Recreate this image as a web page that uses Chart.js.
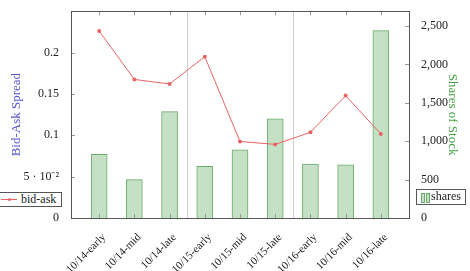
<!DOCTYPE html>
<html>
<head>
<meta charset="utf-8">
<script src="https://cdn.jsdelivr.net/npm/chart.js@4.4.1/dist/chart.umd.min.js"></script>
<style>
    body { margin: 0; background: #fff; font-family: "Liberation Serif", serif; }
    #wrap { position: relative; width: 470px; height: 271px; }
    .legend { position: absolute; border: 1px solid #555; background: #fff; font-size: 12px; line-height: 13px; color: #222; box-sizing: border-box; }
    .legend span { position: absolute; top: 0; }
    #leg-bid { left: -1px; top: 192px; width: 63px; height: 15px; }
    #leg-bid .ln { position: absolute; left: 1px; top: 6px; width: 16px; height: 1px; background: #e86464; }
    #leg-bid .dot { position: absolute; left: 8px; top: 5px; width: 3px; height: 3px; border-radius: 2px; background: #e86464; }
    #leg-shares { left: 416px; top: 189px; width: 50px; height: 16px; }
    #leg-shares .bar { position: absolute; top: 3px; width: 2px; height: 8px; background: #c5e1c5; border: 1px solid #6aaa6a; }
</style>
</head>
<body>
<div id="wrap">
    <canvas id="chart"></canvas>
    <div class="legend" id="leg-bid"><div class="ln"></div><div class="dot"></div><span style="left:21px">bid-ask</span></div>
    <div class="legend" id="leg-shares"><div class="bar" style="left:4px"></div><div class="bar" style="left:9px"></div><span style="left:14px">shares</span></div>
</div>
<script>
const categories = ["10/14-early", "10/14-mid", "10/14-late", "10/15-early", "10/15-mid", "10/15-late", "10/16-early", "10/16-mid", "10/16-late"];
const bidAsk = [0.226, 0.1675, 0.162, 0.195, 0.0925, 0.089, 0.1036, 0.148, 0.1016];
const shares = [830, 500, 1385, 671, 888, 1291, 701, 692, 2440];
const spreadTicks = [0, 0.05, 0.1, 0.15, 0.2];
const shareTicks = [0, 500, 1000, 1500, 2000, 2500];
const dayBreaks = [2.5, 5.5];

const font = {family: "Liberation Serif", size: 12};
const red = "#e86464";

// pgfplots style box, inner ticks and day separators
const framePlugin = {
    id: "frame",
    beforeDatasetsDraw(chart) {
        const {ctx, chartArea: a, scales} = chart;
        ctx.save();
        ctx.strokeStyle = "#cfcfcf";
        ctx.lineWidth = 1;
        dayBreaks.forEach(v => {
            const x = Math.round(scales.x.getPixelForValue(v)) + 0.5;
            ctx.beginPath();
            ctx.moveTo(x, a.top);
            ctx.lineTo(x, a.bottom);
            ctx.stroke();
        });
        ctx.restore();
    },
    afterDatasetsDraw(chart) {
        const {ctx, chartArea: a, scales} = chart;
        ctx.save();
        ctx.strokeStyle = "#999";
        ctx.lineWidth = 1;
        ctx.beginPath();
        categories.forEach((c, i) => {
            const x = Math.round(scales.x.getPixelForValue(i)) + 0.5;
            ctx.moveTo(x, a.bottom); ctx.lineTo(x, a.bottom - 4);
            ctx.moveTo(x, a.top); ctx.lineTo(x, a.top + 4);
        });
        spreadTicks.forEach(v => {
            const y = Math.round(scales.y.getPixelForValue(v)) + 0.5;
            ctx.moveTo(a.left, y); ctx.lineTo(a.left + 4, y);
        });
        shareTicks.forEach(v => {
            const y = Math.round(scales.y1.getPixelForValue(v)) + 0.5;
            ctx.moveTo(a.right, y); ctx.lineTo(a.right - 4, y);
        });
        ctx.stroke();
        ctx.strokeStyle = "#555";
        ctx.strokeRect(Math.round(a.left) + 0.5, Math.round(a.top) + 0.5, Math.round(a.right - a.left), Math.round(a.bottom - a.top));
        ctx.restore();
    }
};

function fmtSpread(v) {
    v = Math.round(v * 100) / 100;
    if (v === 0.05) return "5 · 10⁻²";
    return "" + v;
}

new Chart("chart", {
    type: "bar",
    data: {
        datasets: [{
            type: "line",
            label: "bid-ask",
            data: bidAsk.map((v, i) => ({x: i, y: v})),
            yAxisID: "y",
            borderColor: red,
            backgroundColor: red,
            borderWidth: 1,
            pointRadius: 2,
            pointBorderWidth: 0,
            order: 0
        }, {
            label: "shares",
            data: shares.map((v, i) => ({x: i, y: v})),
            yAxisID: "y1",
            backgroundColor: "#c5e1c5",
            borderColor: "#6aaa6a",
            borderWidth: 1,
            barThickness: 16,
            order: 1
        }]
    },
    options: {
        responsive: true,
        maintainAspectRatio: false,
        animation: false,
        layout: {padding: {top: 8, left: 0, right: 0, bottom: 0}},
        plugins: {legend: {display: false}, tooltip: {enabled: false}},
        scales: {
            x: {
                type: "linear",
                offset: false,
                min: -0.8,
                max: 8.8,
                grid: {display: false},
                border: {display: false},
                afterBuildTicks: s => { s.ticks = categories.map((c, i) => ({value: i})); },
                afterFit: s => { s.height = 53; },
                ticks: {
                    font: {family: "Liberation Serif", size: 11},
                    color: "#222",
                    autoSkip: false,
                    minRotation: 45,
                    maxRotation: 45,
                    padding: 5,
                    labelOffset: 5,
                    callback: v => categories[v]
                }
            },
            y: {
                position: "left",
                min: 0,
                max: 0.25,
                grid: {display: false},
                border: {display: false},
                afterBuildTicks: s => { s.ticks = spreadTicks.map(v => ({value: v})); },
                afterFit: s => { s.width = 71; },
                ticks: {font, color: "#222", padding: 4, callback: fmtSpread},
                title: {display: true, text: "Bid-Ask Spread", color: "#5555d5", font: {family: "Liberation Serif", size: 13}, padding: {top: 9, bottom: 0}}
            },
            y1: {
                position: "right",
                min: 0,
                max: 2692,
                grid: {display: false},
                border: {display: false},
                afterBuildTicks: s => { s.ticks = shareTicks.map(v => ({value: v})); },
                afterFit: s => { s.width = 61; },
                ticks: {font, color: "#222", padding: 4, callback: v => v.toLocaleString("en-US")},
                title: {display: true, text: "Shares of Stock", color: "#44a044", font: {family: "Liberation Serif", size: 13}, padding: {top: 10, bottom: 0}}
            }
        }
    },
    plugins: [framePlugin]
});
</script>
</body>
</html>
